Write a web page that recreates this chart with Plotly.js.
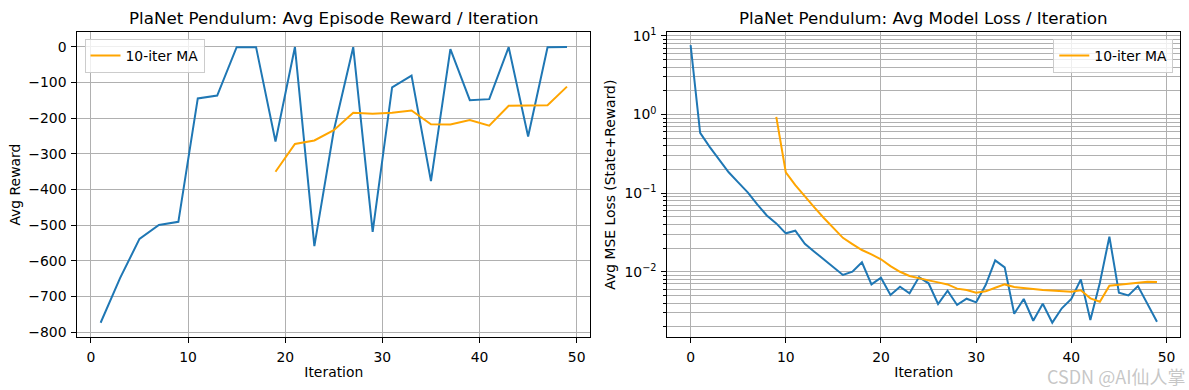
<!DOCTYPE html>
<html>
<head>
<meta charset="utf-8">
<script src="https://cdn.plot.ly/plotly-3.0.1.min.js"></script>
<style>html,body{margin:0;padding:0;background:#fff;} #chart{width:1189px;height:390px;}</style>
</head>
<body>
<div id="chart"></div>
<script>
// ---------- Data ----------
const rewardIters = [1,3,5,7,9,11,13,15,17,19,21,23,25,27,29,31,33,35,37,39,41,43,45,47,49];
const avgReward = [-774,-649,-539,-500,-491,-145,-137,-1.5,-1.2,-266,-1.0,-559,-235,-1.3,-519,-114,-81,-377,-6.5,-150,-147,-1.2,-252,-1.3,-1.1];
const rewardMAIters = [19,21,23,25,27,29,31,33,35,37,39,41,43,45,47,49];
const rewardMA = [-350.5,-272.5,-263,-234,-185,-188,-185,-179,-217.5,-218,-205.5,-221.5,-165.5,-164,-164,-112];

const lossIters = [0,1,2,3,4,5,6,7,8,9,10,11,12,13,14,15,16,17,18,19,20,21,22,23,24,25,26,27,28,29,30,31,32,33,34,35,36,37,38,39,40,41,42,43,44,45,46,47,48,49];
const avgLoss = [7.6,0.585,0.388,0.268,0.184,0.137,0.102,0.072,0.052,0.0412,0.0308,0.0332,0.0227,0.0180,0.0144,0.0115,0.0091,0.0100,0.0132,0.0069,0.0084,0.00506,0.00645,0.00532,0.00855,0.00713,0.00389,0.00574,0.00378,0.00454,0.00408,0.00678,0.01397,0.01138,0.00292,0.0045,0.00238,0.00392,0.00225,0.00343,0.0045,0.0080,0.00243,0.00726,0.0279,0.0054,0.0050,0.00658,0.00396,0.00231];
const lossMAIters = [9,10,11,12,13,14,15,16,17,18,19,20,21,22,23,24,25,26,27,28,29,30,31,32,33,34,35,36,37,38,39,40,41,42,43,44,45,46,47,48,49];
const lossMA = [0.934,0.184,0.126,0.090,0.0658,0.0482,0.0356,0.0270,0.0225,0.0189,0.0166,0.0144,0.0118,0.0100,0.00883,0.0082,0.00776,0.00732,0.0069,0.0061,0.00586,0.0054,0.00563,0.00626,0.0069,0.0064,0.00616,0.00603,0.00586,0.00574,0.00557,0.00557,0.0058,0.00459,0.00416,0.00664,0.00684,0.00705,0.00726,0.00747,0.00741];

const xTickVals = [0,10,20,30,40,50];
const rewardTickVals = [-800,-700,-600,-500,-400,-300,-200,-100,0];
const lossTickVals = [0.01,0.1,1,10];
const lossTickText = ['10<sup>\u22122</sup>','10<sup>\u22121</sup>','10<sup>0</sup>','10<sup>1</sup>'];
const lossMinorVals = [0.002,0.003,0.004,0.005,0.006,0.007,0.008,0.009,
  0.02,0.03,0.04,0.05,0.06,0.07,0.08,0.09,
  0.2,0.3,0.4,0.5,0.6,0.7,0.8,0.9,
  2,3,4,5,6,7,8,9];

const titles = ['PlaNet Pendulum: Avg Episode Reward / Iteration','PlaNet Pendulum: Avg Model Loss / Iteration'];
const maName = '10-iter MA';

// ---------- Style ----------
const BLUE = '#1f77b4', ORANGE = '#ffa500', GRID = '#b0b0b0';
const FONT = 'DejaVu Sans, sans-serif';
const W = 1189, H = 390;

const traces = [
  {x: rewardIters, y: avgReward, type:'scatter', mode:'lines', line:{color:BLUE,width:2}, showlegend:false, xaxis:'x', yaxis:'y'},
  {x: rewardMAIters, y: rewardMA, type:'scatter', mode:'lines', line:{color:ORANGE,width:2}, name:maName, legend:'legend', xaxis:'x', yaxis:'y'},
  {x: lossIters, y: avgLoss, type:'scatter', mode:'lines', line:{color:BLUE,width:2}, showlegend:false, xaxis:'x2', yaxis:'y2'},
  {x: lossMAIters, y: lossMA, type:'scatter', mode:'lines', line:{color:ORANGE,width:2}, name:maName, legend:'legend2', xaxis:'x2', yaxis:'y2'}
];

const axBase = {
  showline:true, mirror:true, linecolor:'#000', linewidth:1,
  ticks:'outside', ticklen:5, tickwidth:1, tickcolor:'#000',
  showgrid:true, gridcolor:GRID, gridwidth:1, zeroline:false,
  tickfont:{family:FONT, size:13.9, color:'#000'},
  ticklabelstandoff:2
};
const yTop = 1 - 32.3/H, yBot = 1 - 337/H;
const legBase = {
  bgcolor:'rgba(255,255,255,0.8)', bordercolor:'#cccccc', borderwidth:1,
  font:{family:FONT, size:13.9, color:'#000'}, yanchor:'top', tracegroupgap:0
};

const layout = {
  width:W, height:H, margin:{l:0,r:0,t:0,b:0},
  paper_bgcolor:'#fff', plot_bgcolor:'#fff',
  font:{family:FONT, color:'#000'},
  xaxis: Object.assign({}, axBase, {domain:[77.3/W, 590.3/W], range:[-1.4,51.4], tickvals:xTickVals, anchor:'y',
    title:{text:'Iteration', font:{family:FONT,size:13.9,color:'#000'}, standoff:3}}),
  yaxis: Object.assign({}, axBase, {domain:[yBot,yTop], range:[-814,40.4], tickvals:rewardTickVals, anchor:'x',
    title:{text:'Avg Reward', font:{family:FONT,size:13.9,color:'#000'}, standoff:4}}),
  xaxis2: Object.assign({}, axBase, {domain:[667.3/W, 1180.3/W], range:[-2.45,51.45], tickvals:xTickVals, anchor:'y2',
    title:{text:'Iteration', font:{family:FONT,size:13.9,color:'#000'}, standoff:3}}),
  yaxis2: Object.assign({}, axBase, {domain:[yBot,yTop], type:'log', range:[-2.83,1.045], tickmode:'array', tickvals:lossTickVals, ticktext:lossTickText, anchor:'x2',
    minor:{tickmode:'array', tickvals:lossMinorVals, ticks:'outside', ticklen:3, tickcolor:'#000', showgrid:true, gridcolor:GRID, gridwidth:1},
    title:{text:'Avg MSE Loss (State+Reward)', font:{family:FONT,size:13.9,color:'#000'}, standoff:5}}),
  legend: Object.assign({}, legBase, {x:84.5/W, xanchor:'left', y:1-39/H}),
  legend2: Object.assign({}, legBase, {x:1173.3/W, xanchor:'right', y:1-39/H}),
  annotations:[
    {text:titles[0], xref:'paper', yref:'paper', x:(77.3+590.3)/2/W, y:1-18/H, xanchor:'center', yanchor:'middle', showarrow:false, font:{family:FONT,size:16.7,color:'#000'}},
    {text:titles[1], xref:'paper', yref:'paper', x:(667.3+1180.3)/2/W, y:1-18/H, xanchor:'center', yanchor:'middle', showarrow:false, font:{family:FONT,size:16.7,color:'#000'}},
    {text:'CSDN @AI仙人掌', xref:'paper', yref:'paper', x:1186/W, y:1-376/H, xanchor:'right', yanchor:'middle', showarrow:false, borderpad:0, font:{family:'Noto Sans CJK SC, sans-serif',size:18,color:'rgba(180,180,180,0.75)'}}
  ]
};

Plotly.newPlot('chart', traces, layout, {displayModeBar:false, staticPlot:true});
</script>
</body>
</html>
